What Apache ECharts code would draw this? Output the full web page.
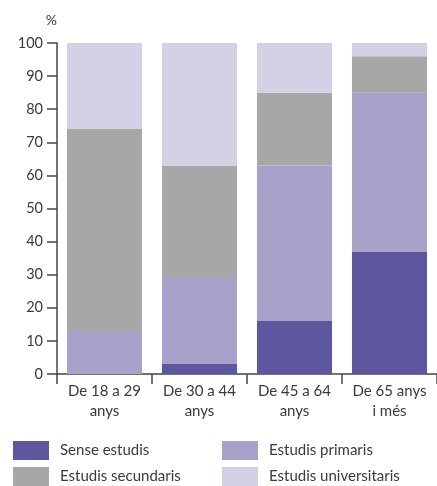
<!DOCTYPE html>
<html><head><meta charset="utf-8">
<script src="https://cdn.jsdelivr.net/npm/echarts@6/dist/echarts.min.js"></script>
<style>html,body{margin:0;padding:0;background:#fff}#c{width:437px;height:486px}</style>
</head><body><div id="c"></div>
<script>
var categories = ['De 18 a 29\nanys', 'De 30 a 44\nanys', 'De 45 a 64\nanys', 'De 65 anys\ni més'];
var senseEstudis = [0, 3, 16, 37];
var estudisPrimaris = [13, 26, 47, 48];
var estudisSecundaris = [61, 34, 22, 11];
var estudisUniversitaris = [26, 37, 15, 4];
var yTicks = [0, 10, 20, 30, 40, 50, 60, 70, 80, 90, 100];
var seriesNames = ['Sense estudis', 'Estudis primaris', 'Estudis secundaris', 'Estudis universitaris'];
var colors = ['#5d579d', '#a8a2cb', '#a7a7a7', '#d4d1e6'];

var font = 'Lato';
var txt = '#3a3a3a';
var chart = echarts.init(document.getElementById('c'));
var data = [senseEstudis, estudisPrimaris, estudisSecundaris, estudisUniversitaris];
var series = data.map(function (d, i) {
  return {
    name: seriesNames[i], type: 'bar', stack: 'total', data: d,
    barCategoryGap: '21%', itemStyle: { color: colors[i] }, silent: true
  };
});
function legendAt(names, left) {
  return {
    show: true, data: names, orient: 'vertical',
    left: left, top: 441, padding: 0, height: 45,
    itemWidth: 36, itemHeight: 19, itemGap: 7,
    icon: 'rect', selectedMode: false,
    textStyle: { fontFamily: font, fontSize: 15, color: txt, padding: [0, 0, 0, 6] }
  };
}
chart.setOption({
  animation: false,
  color: colors,
  textStyle: { fontFamily: font },
  grid: { left: 57, right: 0, top: 43, bottom: 112 },
  legend: [
    legendAt([seriesNames[0], seriesNames[2]], 13),
    legendAt([seriesNames[1], seriesNames[3]], 222)
  ],
  xAxis: {
    type: 'category', data: categories,
    axisLine: { lineStyle: { color: '#444', width: 1.5 } },
    axisTick: { show: true, length: 10, inside: false, lineStyle: { color: '#444', width: 1.5 } },
    axisLabel: { color: txt, fontSize: 15, lineHeight: 20, margin: 7, fontFamily: font, interval: 0 }
  },
  yAxis: {
    type: 'value', min: 0, max: 100, interval: 10,
    name: '%', nameLocation: 'end', nameGap: 16,
    nameTextStyle: { color: txt, fontSize: 14, fontFamily: font, align: 'right' },
    axisLine: { show: true, lineStyle: { color: '#444', width: 1.5 } },
    axisTick: { show: true, length: 10, lineStyle: { color: '#444', width: 1.5 } },
    splitLine: { show: false },
    axisLabel: { color: txt, fontSize: 14.5, margin: 14, fontFamily: font,
      formatter: function (v) { return yTicks.indexOf(v) >= 0 ? String(v) : ''; } }
  },
  series: series
});
</script></body></html>
